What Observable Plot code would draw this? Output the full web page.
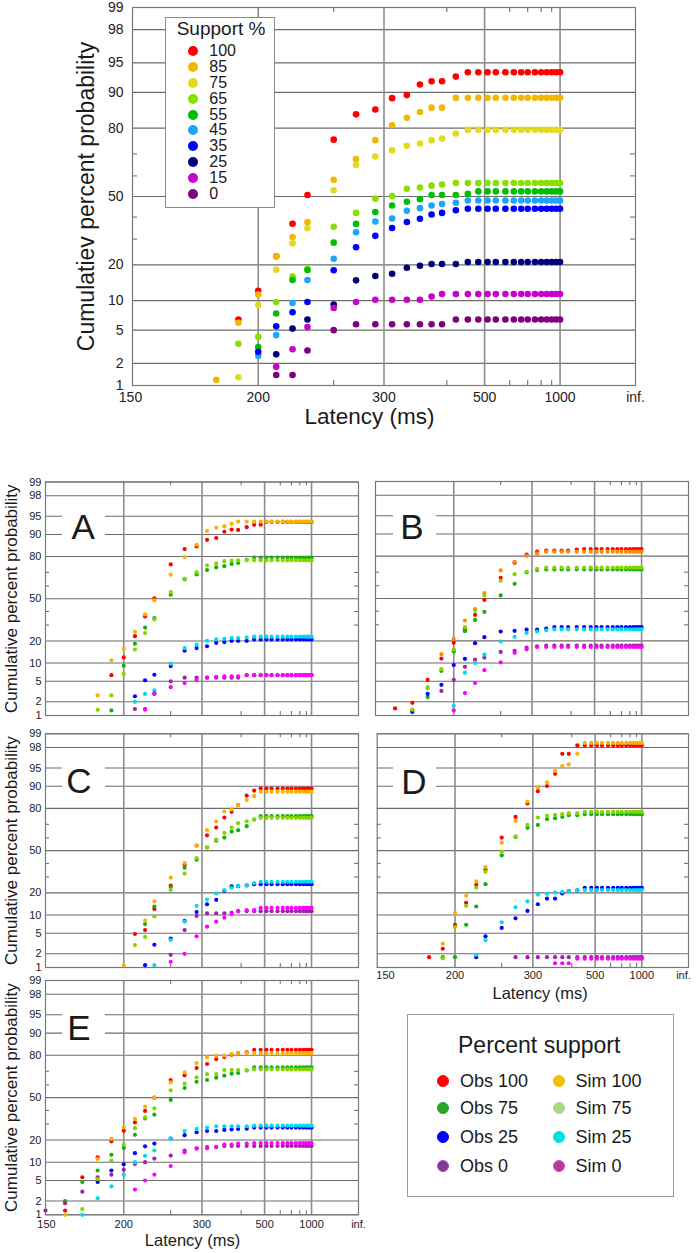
<!DOCTYPE html>
<html><head><meta charset="utf-8">
<script src="https://cdn.jsdelivr.net/npm/d3@7"></script>
<script src="https://cdn.jsdelivr.net/npm/@observablehq/plot@0.6"></script>
<style>
body{margin:0;background:#fff;}
#root{position:relative;width:697px;height:1253px;overflow:hidden;background:#fff;
  font-family:"Liberation Sans",Arial,Helvetica,sans-serif;color:#1a1a1a;}
.ov{position:absolute;box-sizing:border-box;}
.row{position:absolute;display:flex;align-items:center;white-space:nowrap;}
.dot{display:inline-block;border-radius:50%;box-sizing:border-box;}
</style></head><body><div id="root"></div>
<script>
// ---------------- DATA ----------------
// shared axis definitions
const yTickVals = [1, 2, 5, 10, 20, 50, 80, 90, 95, 98, 99];
const yMinorVals = [30, 40, 60, 70];
const xGridLat = [200, 300, 500, 1000];
const xMinorLat = [250, 400, 600, 700, 800, 900];
const xTickLat = [150, 200, 300, 500, 1000, Infinity];
const xTickLabels = ["150", "200", "300", "500", "1000", "inf."];

// top panel: latency bins (ms) and cumulative % per support level
const latTop = [180,190,200,210,220,230,250,270,290,310,330,350,370,390,420,450,480,510,540,580,620,660,700,750,800,850,900,950,1000];
const topSeries = ["100","85","75","65","55","45","35","25","15","0"];
const topColors = ["#ff0000","#f2b705","#e2da1e","#86e000","#00be00","#1ca4ff","#0000ff","#00007a","#cc00cc","#7f007f"];
const top100 = [null,6.5,12.3,23.1,36.9,50.7,75.8,84.4,85.8,88.7,89.4,91.6,92.2,92.2,93.0,93.7,93.7,93.7,93.7,93.7,93.7,93.7,93.7,93.7,93.7,93.7,93.7,93.7,93.7];
const top85  = [1.2,6.0,11.4,23.1,30.9,37.6,58.2,67.8,75.6,81.0,83.4,85.1,86.3,86.3,88.8,88.8,88.8,88.8,88.8,88.8,88.8,88.8,88.8,88.8,88.8,88.8,88.8,88.8,88.8];
const top75  = [null,1.3,9.1,18.4,28.2,34.8,53.1,65.1,68.9,71.5,73.4,74.3,75.6,76.2,78.1,79.4,79.4,79.4,79.4,79.4,79.4,79.4,79.4,79.4,79.4,79.4,79.4,79.4,79.4];
const top65  = [null,3.5,4.2,9.7,16.2,18.6,35.5,42.0,48.9,50.2,53.8,54.4,55.3,55.9,56.6,56.6,56.6,56.6,56.6,56.6,56.6,56.6,56.6,56.6,56.6,56.6,56.6,56.6,56.6];
const top55  = [null,null,3.2,7.5,15.2,18.3,28.5,36.8,42.4,45.6,47.4,48.7,50.7,50.7,50.7,51.3,52.5,52.5,52.5,52.5,52.5,52.5,52.5,52.5,52.5,52.5,52.5,52.5,52.5];
const top45  = [null,null,2.5,4.4,9.5,15.2,22.2,33.0,37.9,39.3,43.0,44.3,45.6,46.3,46.9,48.0,48.0,48.0,48.0,48.0,48.0,48.0,48.0,48.0,48.0,48.0,48.0,48.0,48.0];
const top35  = [null,null,2.8,5.5,7.7,9.7,18.2,26.6,31.4,34.9,37.7,39.2,41.2,42.0,43.3,44.0,44.0,44.0,44.0,44.0,44.0,44.0,44.0,44.0,44.0,44.0,44.0,44.0,44.0];
const top25  = [null,null,null,2.6,5.2,6.5,9.2,15.1,16.4,17.1,19.0,19.7,20.3,20.3,20.3,21.0,21.0,21.0,21.0,21.0,21.0,21.0,21.0,21.0,21.0,21.0,21.0,21.0,21.0];
const top15  = [null,null,null,1.8,3.0,5.4,8.5,9.7,10.2,10.2,10.2,10.2,10.9,11.5,11.5,11.5,11.5,11.5,11.5,11.5,11.5,11.5,11.5,11.5,11.5,11.5,11.5,11.5,11.5];
const top0   = [null,null,null,1.4,1.4,2.9,5.0,5.8,5.8,5.8,5.8,5.8,5.8,5.8,6.5,6.5,6.5,6.5,6.5,6.5,6.5,6.5,6.5,6.5,6.5,6.5,6.5,6.5,6.5];

// small panels: latency bins (ms)
const latSmall = [150,160,170,180,190,200,210,220,230,250,270,290,310,330,350,370,390,420,450,480,510,540,580,620,660,700,750,800,850,900,950,1000];
const panelSeries = ["Obs 100","Obs 75","Obs 25","Obs 0","Sim 100","Sim 75","Sim 25","Sim 0"];
const panelColors = ["#ff0000","#12b012","#0000ff","#a321a8","#f5b400","#86d400","#00dceb","#ff00ff"];
const panelColorsB = ["#ff0000","#12b012","#0000ff","#a321a8","#ff8a00","#86d400","#00dceb","#ff00ff"];

// Panel A
const A_obs100 = [null,null,null,null,6.4,12.1,22.8,36.2,50.3,75.3,83.9,85.1,88.0,88.7,90.9,91.6,91.5,92.3,93.0,93.0,93.7,93.7,93.7,93.7,93.7,93.7,93.7,93.7,93.7,93.7,93.7,93.7];
const A_obs75  = [null,null,null,null,1.3,9.1,18.5,28.3,35.0,53.2,65.1,68.6,71.6,73.4,74.2,75.6,76.2,78.1,79.4,79.4,79.4,79.4,79.4,79.4,79.4,79.4,79.4,79.4,79.4,79.4,79.4,79.4];
const A_obs25  = [null,null,null,null,null,null,2.6,5.2,6.5,9.0,15.0,16.3,17.2,19.0,19.4,20.1,20.1,20.1,20.9,20.9,20.9,20.9,20.9,20.9,20.9,20.9,20.9,20.9,20.9,20.9,20.9,20.9];
const A_obs0   = [null,null,null,null,null,null,1.4,1.4,2.9,5.0,5.8,5.8,5.8,5.8,5.8,5.8,5.8,6.4,6.4,6.4,6.4,6.4,6.4,6.4,6.4,6.4,6.4,6.4,6.4,6.4,6.4,6.4];
const A_sim100 = [null,null,null,2.7,11.0,16.0,25.6,37.8,48.7,68.4,79.7,85.9,91.2,92.2,92.6,93.2,93.8,93.8,93.8,93.8,93.8,93.8,93.8,93.8,93.8,93.8,93.8,93.8,93.8,93.8,93.8,93.8];
const A_sim75  = [null,null,null,1.35,2.7,6.7,15.6,24.7,34.0,55.3,65.5,70.2,74.7,75.9,77.3,77.7,77.8,77.9,77.8,77.8,77.8,77.8,77.8,77.8,77.8,77.8,77.8,77.8,77.8,77.8,77.8,77.8];
const A_sim25  = [null,null,null,null,null,null,2.0,2.9,3.4,9.8,16.3,18.0,20.1,20.9,21.2,21.7,21.7,22.0,22.5,22.5,22.5,22.5,22.5,22.5,22.5,22.5,22.5,22.5,22.5,22.5,22.5,22.5];
const A_sim0   = [null,null,null,null,null,null,null,1.35,3.0,3.9,4.65,5.3,5.8,6.0,6.1,6.1,6.1,6.4,6.4,6.4,6.4,6.4,6.4,6.4,6.4,6.4,6.4,6.4,6.4,6.4,6.4,6.4];

// Panel B
const B_obs100 = [null,1.44,1.9,5.3,11.6,18.9,27.0,37.2,48.9,66.0,76.1,80.8,82.4,82.9,83.0,83.0,83.0,83.5,83.7,83.7,83.7,83.7,83.7,83.7,83.7,83.7,83.7,83.7,83.7,83.7,83.7,83.7];
const B_obs75  = [null,null,1.3,2.5,7.5,14.6,25.8,33.5,39.5,52.4,61.5,69.8,71.4,71.8,71.8,71.8,71.8,71.8,71.8,71.8,71.8,71.8,71.8,71.8,71.8,71.8,71.8,71.8,71.8,71.8,71.8,71.8];
const B_obs25  = [null,null,1.2,2.9,4.3,9.3,11.5,18.7,22.1,25.6,26.0,26.8,26.8,27.5,28.5,28.5,28.5,28.5,28.5,28.5,28.5,28.5,28.5,28.5,28.5,28.5,28.5,28.5,28.5,28.5,28.5,28.5];
const B_obs0   = [null,null,null,null,3.3,5.3,8.7,11.2,12.0,14.4,14.9,16.4,17.1,17.4,17.4,17.4,17.4,17.4,17.4,17.4,17.4,17.4,17.4,17.4,17.4,17.4,17.4,17.4,17.4,17.4,17.4,17.4];
const B_sim100 = [null,null,null,3.7,13.4,21.1,33.1,41.6,54.2,71.2,76.7,80.2,81.5,82.4,82.4,82.4,82.4,82.4,82.4,82.4,82.4,82.4,82.4,82.4,82.4,82.4,82.4,82.4,82.4,82.4,82.4,82.4];
const B_sim75  = [null,null,1.35,3.9,8.0,15.6,28.4,40.5,52.4,63.8,68.6,70.2,72.3,73.1,73.1,73.1,73.1,73.1,73.1,73.1,73.1,73.1,73.1,73.1,73.1,73.1,73.1,73.1,73.1,73.1,73.1,73.1];
const B_sim25  = [null,null,null,null,null,1.65,7.0,10.0,13.2,19.6,22.3,24.7,25.6,26.4,26.9,26.9,26.9,26.9,26.9,26.9,26.9,26.9,26.9,26.9,26.9,26.9,26.9,26.9,26.9,26.9,26.9,26.9];
const B_sim0   = [null,null,null,null,null,1.3,3.0,4.65,7.7,10.2,14.0,15.6,16.8,16.8,16.8,16.8,16.8,16.8,16.8,16.8,16.8,16.8,16.8,16.8,16.8,16.8,16.8,16.8,16.8,16.8,16.8,16.8];

// Panel C
const C_obs100 = [null,null,null,null,null,null,4.85,5.7,12.3,24.4,39.2,54.0,62.0,67.7,74.5,78.0,81.8,86.3,88.4,89.2,89.2,89.2,89.2,89.2,89.2,89.2,89.2,89.2,89.2,89.2,89.2,89.2];
const C_obs75  = [null,null,null,null,null,null,null,7.2,13.3,23.4,36.7,42.9,52.5,57.9,60.3,64.8,65.8,68.7,73.2,75.4,75.4,75.4,75.4,75.4,75.4,75.4,75.4,75.4,75.4,75.4,75.4,75.4];
const C_obs25  = [null,null,null,null,null,null,null,1.13,3.05,4.0,8.1,11.1,14.3,16.4,21.2,23.8,24.0,24.4,25.2,25.2,25.2,25.2,25.2,25.2,25.2,25.2,25.2,25.2,25.2,25.2,25.2,25.2];
const C_obs0   = [null,null,null,null,null,null,null,null,null,1.9,5.7,9.7,10.6,10.6,10.6,10.8,11.4,11.4,11.4,11.4,11.4,11.4,11.4,11.4,11.4,11.4,11.4,11.4,11.4,11.4,11.4,11.4];
const C_sim100 = [null,null,null,null,null,1.13,null,8.2,15.6,29.5,40.3,54.0,65.8,71.9,78.2,79.4,81.8,84.3,86.1,88.0,88.0,88.0,88.0,88.0,88.0,88.0,88.0,88.0,88.0,88.0,88.0,88.0];
const C_sim75  = [null,null,null,null,null,null,3.0,4.3,9.5,21.8,32.3,44.2,52.7,58.7,63.8,67.7,70.8,72.1,73.2,74.3,74.3,74.3,74.3,74.3,74.3,74.3,74.3,74.3,74.3,74.3,74.3,74.3];
const C_sim25  = [null,null,null,null,null,null,null,null,1.13,3.8,7.9,13.6,16.5,19.7,21.6,23.0,24.0,24.6,25.9,26.8,26.8,26.8,26.8,26.8,26.8,26.8,26.8,26.8,26.8,26.8,26.8,26.8];
const C_sim0   = [null,null,null,null,null,null,null,null,null,1.35,2.0,4.4,6.5,7.9,9.1,10.4,11.4,11.8,11.8,12.7,12.7,12.7,12.7,12.7,12.7,12.7,12.7,12.7,12.7,12.7,12.7,12.7];

// Panel D
const D_obs100 = [null,null,null,1.7,2.54,7.0,14.9,24.8,35.4,60.3,74.9,82.6,88.2,90.1,93.7,97.3,97.3,98.2,98.2,98.2,98.2,98.2,98.2,98.2,98.2,98.2,98.2,98.2,98.2,98.2,98.2,98.2];
const D_obs75  = [null,null,null,null,1.7,1.7,7.0,13.3,25.2,46.3,60.8,67.5,69.6,73.5,74.1,74.9,76.0,76.0,76.6,76.6,76.6,76.6,76.6,76.6,76.6,76.6,76.6,76.6,76.6,76.6,76.6,76.6];
const D_obs25  = [null,null,null,null,null,null,null,1.7,4.4,6.2,8.9,11.5,14.3,17.0,17.0,19.7,21.0,21.4,23.0,23.0,23.0,23.0,23.0,23.0,23.0,23.0,23.0,23.0,23.0,23.0,23.0,23.0];
const D_obs0   = [null,null,null,null,null,null,null,null,null,null,1.7,1.7,1.7,1.7,1.7,1.7,1.7,1.7,1.7,1.7,1.7,1.7,1.7,1.7,1.7,1.7,1.7,1.7,1.7,1.7,1.7,1.7];
const D_sim100 = [null,null,null,null,3.2,10.75,18.4,27.0,37.2,56.1,72.3,83.6,89.7,91.3,94.4,95.4,95.7,97.3,98.4,98.4,98.4,98.4,98.4,98.4,98.4,98.4,98.4,98.4,98.4,98.4,98.4,98.4];
const D_sim75  = [null,null,null,null,1.6,6.4,13.6,23.0,33.7,49.2,61.3,69.6,74.5,75.8,76.2,76.6,77.2,77.2,78.0,78.0,78.0,78.0,78.0,78.0,78.0,78.0,78.0,78.0,78.0,78.0,78.0,78.0];
const D_sim25  = [null,null,null,null,null,null,null,1.9,3.75,7.7,13.0,15.6,19.1,19.5,20.2,20.6,21.0,21.4,21.6,21.6,21.6,21.6,21.6,21.6,21.6,21.6,21.6,21.6,21.6,21.6,21.6,21.6];
const D_sim0   = [null,null,null,null,null,null,null,null,null,null,null,null,null,null,1.25,1.25,1.25,1.57,1.57,1.57,1.57,1.57,1.57,1.57,1.57,1.57,1.57,1.57,1.57,1.57,1.57,1.57];

// Panel E
const E_obs100 = [null,1.25,5.7,11.8,19.3,25.6,31.2,39.6,50.0,63.7,67.1,72.2,74.8,77.8,79.0,80.3,81.2,81.6,82.9,82.9,82.9,82.9,82.9,82.9,82.9,82.9,82.9,82.9,82.9,82.9,82.9,82.9];
const E_obs75  = [null,2.0,4.7,7.4,12.8,15.9,23.0,34.0,36.8,48.2,57.6,62.4,63.7,65.4,66.9,68.3,68.8,70.5,72.6,72.6,72.6,72.6,72.6,72.6,72.6,72.6,72.6,72.6,72.6,72.6,72.6,72.6];
const E_obs25  = [null,null,null,4.7,7.4,9.3,13.5,16.7,18.1,20.8,22.8,24.6,25.4,25.4,26.1,26.5,26.7,26.9,27.6,27.6,27.6,27.6,27.6,27.6,27.6,27.6,27.6,27.6,27.6,27.6,27.6,27.6];
const E_obs0   = [1.25,1.8,3.1,5.7,6.3,7.6,9.4,10.0,11.3,12.5,14.7,15.7,16.3,16.3,16.9,16.9,16.9,16.9,16.9,16.9,16.9,16.9,16.9,16.9,16.9,16.9,16.9,16.9,16.9,16.9,16.9,16.9];
const E_sim100 = [null,1.0,null,11.2,20.6,27.8,33.6,42.9,50.0,61.9,69.2,75.4,78.8,79.8,79.8,80.7,81.2,81.2,81.2,81.2,81.2,81.2,81.2,81.2,81.2,81.2,81.2,81.2,81.2,81.2,81.2,81.2];
const E_sim75  = [null,null,1.35,5.3,10.6,17.6,27.2,34.8,41.6,55.8,60.9,65.7,68.0,68.0,70.8,70.8,70.8,70.8,71.3,71.3,71.3,71.3,71.3,71.3,71.3,71.3,71.3,71.3,71.3,71.3,71.3,71.3];
const E_sim25  = [null,null,1.0,2.3,3.9,6.3,10.0,12.4,14.7,20.6,25.4,26.7,27.6,28.5,28.5,28.5,28.5,28.5,28.9,28.9,28.9,28.9,28.9,28.9,28.9,28.9,28.9,28.9,28.9,28.9,28.9,28.9];
const E_sim0   = [null,null,null,null,null,null,3.4,5.0,6.3,8.7,13.9,15.6,15.8,16.3,17.6,17.6,18.1,18.1,18.4,18.4,18.4,18.4,18.4,18.4,18.4,18.4,18.4,18.4,18.4,18.4,18.4,18.4];

// legends
const topLegendTitle = "Support %";
const bottomLegendTitle = "Percent support";
const legendObs = ["Obs 100","Obs 75","Obs 25","Obs 0"];
const legendSim = ["Sim 100","Sim 75","Sim 25","Sim 0"];
const legendObsFill = ["#ff0000","#2ba32b","#0000ff","#7d3c98"];
const legendObsStroke = ["#ff0000","#2ba32b","#0000ff","#b847c8"];
const legendSimFill = ["#f2c000","#a8d888","#00e0e0","#b0408f"];
const legendSimStroke = ["#f2c000","#a8d888","#00e0e0","#ea3ae8"];
const panelLetters = ["A","B","C","D","E"];

// ---------------- DRAWING ----------------
const FONT = '"Liberation Sans", Arial, Helvetica, sans-serif';
const root = document.getElementById("root");

function probit(p) {
  const a = [-3.969683028665376e+01, 2.209460984245205e+02, -2.759285104469687e+02, 1.383577518672690e+02, -3.066479806614716e+01, 2.506628277459239e+00];
  const b = [-5.447609879822406e+01, 1.615858368580409e+02, -1.556989798598866e+02, 6.680131188771972e+01, -1.328068155288572e+01];
  const c = [-7.784894002430293e-03, -3.223964580411365e-01, -2.400758277161838e+00, -2.549732539343734e+00, 4.374664141464968e+00, 2.938163982698783e+00];
  const d = [7.784695709041462e-03, 3.224671290700398e-01, 2.445134137142996e+00, 3.754408661907416e+00];
  const plow = 0.02425, phigh = 1 - plow;
  let q, r;
  if (p < plow) {
    q = Math.sqrt(-2 * Math.log(p));
    return (((((c[0]*q+c[1])*q+c[2])*q+c[3])*q+c[4])*q+c[5]) / ((((d[0]*q+d[1])*q+d[2])*q+d[3])*q+1);
  }
  if (p <= phigh) {
    q = p - 0.5; r = q * q;
    return (((((a[0]*r+a[1])*r+a[2])*r+a[3])*r+a[4])*r+a[5])*q / (((((b[0]*r+b[1])*r+b[2])*r+b[3])*r+b[4])*r+1);
  }
  q = Math.sqrt(-2 * Math.log(1 - p));
  return -(((((c[0]*q+c[1])*q+c[2])*q+c[3])*q+c[4])*q+c[5]) / ((((d[0]*q+d[1])*q+d[2])*q+d[3])*q+1);
}
const u = L => -1000 / L;          // reciprocal latency axis
const z = pct => probit(pct / 100); // normal-probability axis

function drawPanel(cfg) {
  const {lat, names, arrays, colors, left, top, width, height, ml, mr, mt, mb, r, tick, fs} = cfg;
  const rows = [];
  names.forEach((n, k) => arrays[k].forEach((v, i) => { if (v != null) rows.push({s: n, L: lat[i], p: v}); }));
  const fw = width - ml - mr, fh = height - mt - mb;
  const marks = [
    Plot.ruleY(yTickVals, {y: d => z(d), stroke: "#6c6c6c", strokeWidth: 1.1}),
    Plot.ruleX(xGridLat, {x: d => u(d), stroke: "#8c8c8c", strokeWidth: 1.6}),
    Plot.ruleX(xMinorLat, {x: d => u(d), insetBottom: fh - tick, stroke: "#666"}),
    Plot.ruleX(xMinorLat, {x: d => u(d), insetTop: fh - tick, stroke: "#666"}),
    Plot.ruleY(yMinorVals, {y: d => z(d), insetRight: fw - tick, stroke: "#666"}),
    Plot.ruleY(yMinorVals, {y: d => z(d), insetLeft: fw - tick, stroke: "#666"}),
    Plot.frame({stroke: "#787878", strokeWidth: 1.2}),
    Plot.dot(rows, {x: d => u(d.L), y: d => z(d.p), fill: "s", r})
  ];
  if (cfg.yLabels) marks.push(Plot.text(yTickVals, {y: d => z(d), text: d => String(d), frameAnchor: "left", textAnchor: "end", dx: -cfg.yPad, fontSize: fs, fill: "#222"}));
  if (cfg.yTitle) marks.push(Plot.text([cfg.yTitle], {text: d => d, frameAnchor: "left", textAnchor: "middle", lineAnchor: "middle", dx: cfg.yTitleDx, rotate: -90, fontSize: cfg.yTitleFs, fill: "#1a1a1a"}));
  if (cfg.xLabels) {
    const ticks = xTickLat.map((L, i) => ({L, label: xTickLabels[i]}));
    const base = {x: d => u(d.L), text: "label", frameAnchor: "bottom", textAnchor: "middle", lineAnchor: "top", dy: cfg.xPad, fontSize: fs, fill: "#222"};
    marks.push(Plot.text(ticks.slice(1, -1), base));
    marks.push(Plot.text(ticks.slice(0, 1), {...base, dx: cfg.firstDx || 0}));
    marks.push(Plot.text(ticks.slice(-1), {...base, dx: cfg.lastDx || 0}));
  }
  if (cfg.xTitle) marks.push(Plot.text([cfg.xTitle], {text: d => d, frameAnchor: "bottom", textAnchor: "middle", lineAnchor: "middle", dx: cfg.xTitleDx, dy: cfg.xTitleDy, fontSize: cfg.xTitleFs, fill: "#1a1a1a"}));
  const svg = Plot.plot({
    width, height, marginLeft: ml, marginRight: mr, marginTop: mt, marginBottom: mb,
    x: {domain: [u(150), 0], axis: null},
    y: {domain: [z(1), z(99)], axis: null},
    color: {domain: names, range: colors},
    style: {background: "transparent", overflow: "visible", fontFamily: FONT},
    marks
  });
  svg.style.position = "absolute";
  svg.style.left = left + "px";
  svg.style.top = top + "px";
  svg.style.maxWidth = "none";
  root.appendChild(svg);
}

function el(cls, style, text) {
  const e = document.createElement("div");
  e.className = cls;
  Object.assign(e.style, style);
  if (text != null) e.textContent = text;
  root.appendChild(e);
  return e;
}

// top panel
drawPanel({
  lat: latTop, names: topSeries, colors: topColors,
  arrays: [top100, top85, top75, top65, top55, top45, top35, top25, top15, top0],
  left: 0, top: 0, width: 697, height: 430, ml: 132, mr: 62, mt: 7, mb: 45,
  r: 3.3, tick: 5, fs: 14, yLabels: true, yPad: 9, xLabels: true, xPad: 7, firstDx: -2,
  yTitle: "Cumulatiev percent probability", yTitleDx: -46, yTitleFs: 23,
  xTitle: "Latency (ms)", xTitleDx: -14.5, xTitleDy: 31.5, xTitleFs: 22.5
});

const small = {lat: latSmall, names: panelSeries, r: 2.1, tick: 4, fs: 11, yPad: 4, xPad: 4,
  yTitleDx: -34, yTitleFs: 17, xTitleFs: 16.5, xTitleDy: 26};
drawPanel({...small, colors: panelColors, arrays: [A_obs100, A_obs75, A_obs25, A_obs0, A_sim100, A_sim75, A_sim25, A_sim0],
  left: 0, top: 470, width: 362, height: 249, ml: 45, mr: 4, mt: 11.5, mb: 4,
  yLabels: true, yTitle: "Cumulative percent probability"});
drawPanel({...small, colors: panelColorsB, arrays: [B_obs100, B_obs75, B_obs25, B_obs0, B_sim100, B_sim75, B_sim25, B_sim0],
  left: 330, top: 470, width: 367, height: 249, ml: 45, mr: 9, mt: 11, mb: 4});
drawPanel({...small, colors: panelColors, arrays: [C_obs100, C_obs75, C_obs25, C_obs0, C_sim100, C_sim75, C_sim25, C_sim0],
  left: 0, top: 721, width: 362, height: 250, ml: 45, mr: 4, mt: 12.3, mb: 4,
  yLabels: true, yTitle: "Cumulative percent probability"});
drawPanel({...small, colors: panelColors, arrays: [D_obs100, D_obs75, D_obs25, D_obs0, D_sim100, D_sim75, D_sim25, D_sim0],
  left: 330, top: 721, width: 367, height: 284, ml: 46.7, mr: 9, mt: 12.3, mb: 38,
  xLabels: true, firstDx: 8.3, lastDx: -5, xTitle: "Latency (ms)", xTitleDx: 7.3});
drawPanel({...small, colors: panelColors, arrays: [E_obs100, E_obs75, E_obs25, E_obs0, E_sim100, E_sim75, E_sim25, E_sim0],
  left: 0, top: 972, width: 362, height: 281, ml: 45, mr: 4, mt: 8, mb: 38.7, xPad: 5.5,
  yLabels: true, yTitle: "Cumulative percent probability",
  xLabels: true, firstDx: 1, xTitle: "Latency (ms)", xTitleDx: -9.5});

// panel letters with white boxes that break the gridlines
const letterPos = [[83.3, 526, 62], [412, 526.5, 393], [79, 780, 62], [414, 781.7, 393], [79, 1027.5, 62]];
panelLetters.forEach((t, i) => {
  const [cx, cy, bx] = letterPos[i];
  el("ov", {left: bx + "px", top: (cy - 25) + "px", width: "43px", height: "50px", background: "#fff"});
  el("ov", {left: (cx - 25) + "px", top: (cy - 17.5) + "px", width: "50px", height: "35px", lineHeight: "35px",
    fontSize: "35px", textAlign: "center", color: "#1a1a1a"}, t);
});

// top legend
el("ov", {left: "165px", top: "17.3px", width: "109.5px", height: "191px", background: "#fff", border: "1.2px solid #8a8a8a"});
el("ov", {left: "176.7px", top: "19.2px", fontSize: "19px", lineHeight: "19px", whiteSpace: "nowrap"}, topLegendTitle);
topSeries.forEach((s, i) => {
  const cy = 50.7 + 15.95 * i;
  const row = el("row", {left: "188.3px", top: (cy - 8) + "px", height: "16px"});
  const d = document.createElement("span");
  d.className = "dot";
  Object.assign(d.style, {width: "10px", height: "10px", background: topColors[i], marginRight: "11px"});
  row.appendChild(d);
  const t = document.createElement("span");
  Object.assign(t.style, {fontSize: "16px", lineHeight: "16px"});
  t.textContent = s;
  row.appendChild(t);
});

// bottom legend
el("ov", {left: "406.7px", top: "1014px", width: "267.6px", height: "182.7px", background: "#fff", border: "1.4px solid #9a9a9a"});
el("ov", {left: "406.7px", top: "1033.7px", width: "265px", textAlign: "center", fontSize: "23px", lineHeight: "23px", whiteSpace: "nowrap"}, bottomLegendTitle);
const rowY = [1081, 1108.2, 1136.7, 1165.7];
function legendRow(x, y, label, fill, stroke) {
  const row = el("row", {left: (x - 6) + "px", top: (y - 9) + "px", height: "18px"});
  const d = document.createElement("span");
  d.className = "dot";
  Object.assign(d.style, {width: "12px", height: "12px", background: fill, border: "1.5px solid " + stroke, marginRight: "10.7px"});
  row.appendChild(d);
  const t = document.createElement("span");
  Object.assign(t.style, {fontSize: "18px", lineHeight: "18px"});
  t.textContent = label;
  row.appendChild(t);
}
legendObs.forEach((s, i) => legendRow(443.3, rowY[i], s, legendObsFill[i], legendObsStroke[i]));
legendSim.forEach((s, i) => legendRow(558.7, rowY[i], s, legendSimFill[i], legendSimStroke[i]));
</script></body></html>
